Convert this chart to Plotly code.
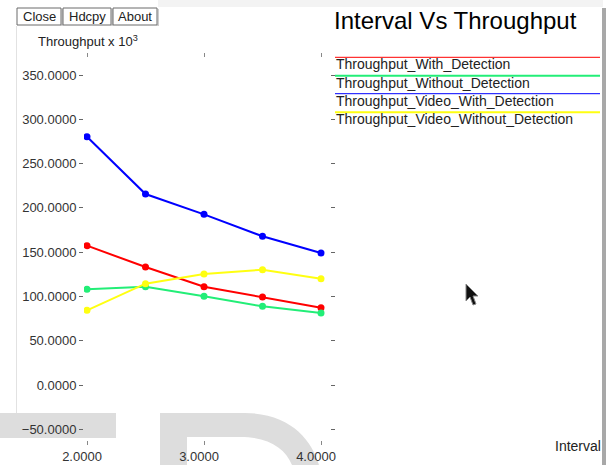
import plotly.graph_objects as go

# ---------------- data ----------------
intervals = [2.0, 2.5, 3.0, 3.5, 4.0]
thr_with_detection = [157.3, 133.2, 111.0, 99.4, 87.3]
thr_without_detection = [108.0, 111.0, 100.1, 88.8, 81.3]
thr_video_with_detection = [280.3, 215.6, 192.7, 167.9, 149.0]
thr_video_without_detection = [84.3, 114.4, 125.3, 130.2, 120.0]

series_names = ["Throughput_With_Detection", "Throughput_Without_Detection",
                "Throughput_Video_With_Detection", "Throughput_Video_Without_Detection"]
series_values = [thr_with_detection, thr_without_detection,
                 thr_video_with_detection, thr_video_without_detection]
series_colors = ["#ff0000", "#22ee77", "#0000ff", "#ffff11"]
legend_widths = [1, 2, 1, 2]

x_ticks = [2.0, 3.0, 4.0]
y_ticks = [-50, 0, 50, 100, 150, 200, 250, 300, 350]

title_text = "Interval Vs Throughput"
y_title = "Throughput x 10<sup>3</sup>"
x_title = "Interval"
buttons = ["Close", "Hdcpy", "About"]

# ---------------- layout helpers ----------------
W, H = 608, 465
L, R, T, B = 84, 330, 58, 440
FONT = "Liberation Sans, Arial, sans-serif"


def px(x):
    return (x - L) / (R - L)


def py(y):
    return 1 - (y - T) / (B - T)


fig = go.Figure()
for name, vals, col in zip(series_names, series_values, series_colors):
    fig.add_trace(go.Scatter(x=intervals, y=vals, name=name, mode="lines+markers",
                             line=dict(color=col, width=2),
                             marker=dict(color=col, size=7),
                             showlegend=False))

shapes = []
annotations = []

# background artefacts of the screenshot
shapes.append(dict(type="rect", xref="paper", yref="paper", x0=px(158), x1=px(603),
                   y0=py(0), y1=py(7), fillcolor="#f3f3f3", line=dict(width=0), layer="below"))
shapes.append(dict(type="line", xref="paper", yref="paper", x0=px(16.5), x1=px(16.5),
                   y0=py(26), y1=py(413), line=dict(color="#e2e2e2", width=1), layer="below"))
shapes.append(dict(type="rect", xref="paper", yref="paper", x0=px(0), x1=px(116),
                   y0=py(413), y1=py(438), fillcolor="#dddddd", line=dict(width=0), layer="below"))

# big grey letter watermark
path = (f"M{px(160)},{py(413)} L{px(245)},{py(413)} "
        f"C{px(290)},{py(413)} {px(312)},{py(440)} {px(319)},{py(465)} "
        f"L{px(292)},{py(465)} "
        f"C{px(285)},{py(448)} {px(268)},{py(437)} {px(240)},{py(437)} "
        f"L{px(187)},{py(437)} L{px(187)},{py(465)} L{px(160)},{py(465)} Z")
shapes.append(dict(type="path", xref="paper", yref="paper", path=path,
                   fillcolor="#dddddd", line=dict(width=0), layer="below"))

# right window border
shapes.append(dict(type="rect", xref="paper", yref="paper", x0=px(602), x1=px(606),
                   y0=py(8), y1=py(465), fillcolor="#a8a8a8", line=dict(width=0), layer="below"))

# mouse cursor
cur = (f"M{px(466)},{py(284)} L{px(466)},{py(301)} L{px(470)},{py(297)} "
       f"L{px(473)},{py(305)} L{px(476)},{py(304)} L{px(473)},{py(296)} "
       f"L{px(478)},{py(296)} Z")
shapes.append(dict(type="path", xref="paper", yref="paper", path=cur,
                   fillcolor="#111111", line=dict(color="#888888", width=1)))

# buttons
btn_x = [(17, 61), (63, 111), (113, 157)]
for (bx0, bx1), label in zip(btn_x, buttons):
    shapes.append(dict(type="rect", xref="paper", yref="paper", x0=px(bx0), x1=px(bx1),
                       y0=py(8), y1=py(25), line=dict(color="#6a6a6a", width=1),
                       fillcolor="white"))
    shapes.append(dict(type="line", xref="paper", yref="paper", x0=px(bx1 + 1), x1=px(bx1 + 1),
                       y0=py(9), y1=py(26), line=dict(color="#9a9a9a", width=1)))
    annotations.append(dict(text=label, xref="paper", yref="paper",
                            x=px((bx0 + bx1) / 2), y=py(16.5), showarrow=False,
                            xanchor="center", yanchor="middle",
                            font=dict(family=FONT, size=13, color="#222222")))

# custom legend
legend_line_y = [57.3, 75.7, 93.7, 112.3]
for i, (name, col) in enumerate(zip(series_names, series_colors)):
    yl = legend_line_y[i]
    shapes.append(dict(type="line", xref="paper", yref="paper", x0=px(335), x1=px(600),
                       y0=py(yl), y1=py(yl), line=dict(color=col, width=legend_widths[i])))
    annotations.append(dict(text=name, xref="paper", yref="paper", x=px(334), y=py(yl + 7),
                            showarrow=False, xanchor="left", yanchor="middle",
                            font=dict(family=FONT, size=14, color="#222222")))

# titles
annotations.append(dict(text=title_text, xref="paper", yref="paper", x=px(332), y=py(21),
                        showarrow=False, xanchor="left", yanchor="middle",
                        font=dict(family=FONT, size=24, color="#000000")))
annotations.append(dict(text=y_title, xref="paper", yref="paper", x=px(36), y=py(41),
                        showarrow=False, xanchor="left", yanchor="middle",
                        font=dict(family=FONT, size=13, color="#222222")))
annotations.append(dict(text=x_title, xref="paper", yref="paper", x=px(603), y=py(446),
                        showarrow=False, xanchor="right", yanchor="middle",
                        font=dict(family=FONT, size=14, color="#222222")))

fig.update_layout(
    width=W, height=H, autosize=False,
    margin=dict(l=L, r=W - R, t=T, b=H - B, pad=0),
    paper_bgcolor="white", plot_bgcolor="rgba(0,0,0,0)",
    showlegend=False,
    shapes=shapes, annotations=annotations,
    font=dict(family=FONT, size=13, color="#333333"),
)

fig.update_xaxes(range=[2 - 3 / 117, 4 + 9 / 117], tickvals=x_ticks, tickformat=".4f",
                 showgrid=False, zeroline=False, showline=False, automargin=False,
                 ticks="outside", ticklen=4, tickcolor="#888888", mirror="ticks",
                 ticklabelshift=-5,
                 tickfont=dict(family=FONT, size=13, color="#333333"))
fig.update_yaxes(range=[-62.1, 369.2], tickvals=y_ticks, tickformat=".4f",
                 showgrid=False, zeroline=False, showline=False, automargin=False,
                 ticks="outside", ticklen=4, tickcolor="#666666", mirror="ticks",
                 tickfont=dict(family=FONT, size=13, color="#333333"))

fig.write_html("out.html", config={"displayModeBar": False, "responsive": False},
               post_script="document.body.style.margin='0px';")
